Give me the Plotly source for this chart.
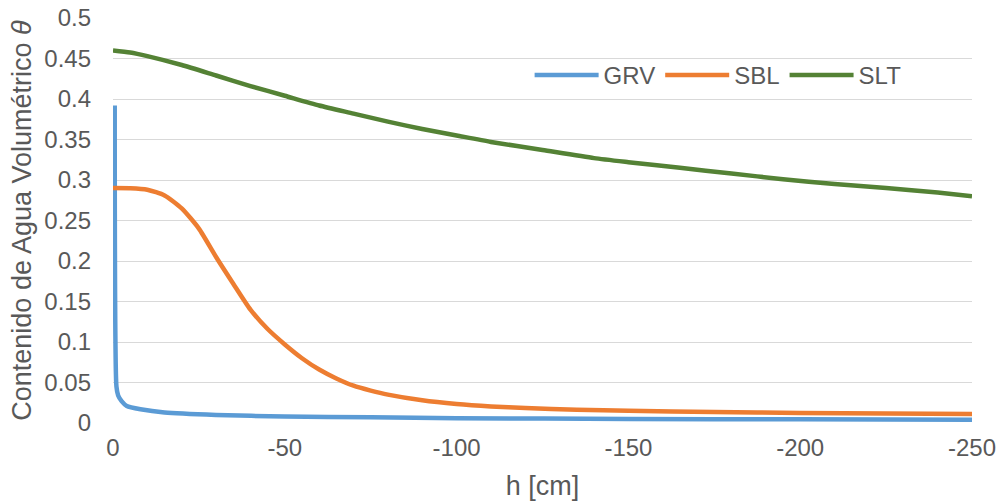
import plotly.graph_objects as go

# Suction head h [cm] and volumetric water content for each soil
h_grv = [-0.5, -1, -1.5, -2.5, -4, -8, -15, -30, -50, -75, -100, -150, -200, -250]
theta_grv = [0.392, 0.045, 0.034, 0.027, 0.021, 0.017, 0.013, 0.010, 0.008, 0.007,
             0.006, 0.005, 0.0045, 0.004]

h_sbl = [0, -5, -10, -15, -20, -25, -30, -35, -40, -45, -50, -55, -60, -65, -70,
         -75, -80, -90, -100, -110, -120, -135, -150, -175, -200, -225, -250]
theta_sbl = [0.290, 0.2898, 0.288, 0.281, 0.265, 0.240, 0.205, 0.172, 0.140, 0.116,
             0.097, 0.080, 0.066, 0.055, 0.046, 0.040, 0.035, 0.028, 0.0235, 0.0205,
             0.0185, 0.0165, 0.015, 0.0135, 0.0125, 0.0117, 0.011]

h_slt = [0, -5, -10, -20, -30, -40, -50, -60, -70, -80, -90, -100, -110, -125, -140,
         -150, -165, -180, -195, -210, -225, -240, -250]
theta_slt = [0.460, 0.4575, 0.453, 0.442, 0.429, 0.416, 0.404, 0.392, 0.382, 0.372,
             0.363, 0.355, 0.347, 0.337, 0.327, 0.322, 0.315, 0.308, 0.301, 0.295,
             0.290, 0.2845, 0.280]

x_ticks = [0, -50, -100, -150, -200, -250]
x_tick_labels = ["0", "-50", "-100", "-150", "-200", "-250"]

series = [
    ("GRV", h_grv, theta_grv, "#5B9BD5"),
    ("SBL", h_sbl, theta_sbl, "#ED7D31"),
    ("SLT", h_slt, theta_slt, "#548235"),
]

fig = go.Figure()
for name, xs, ys, color in series:
    fig.add_trace(go.Scatter(
        x=xs, y=ys, name=name, mode="lines",
        line=dict(color=color, width=4.5, shape="spline", smoothing=0.6),
    ))

text_color = "#595959"
fig.update_layout(
    width=1000, height=504,
    margin=dict(l=113, r=28, t=18, b=81),
    paper_bgcolor="white", plot_bgcolor="white",
    font=dict(family="Liberation Sans, Arial, sans-serif", size=24, color=text_color),
    showlegend=True,
    legend=dict(
        orientation="h", x=0.485, y=0.858, xanchor="left", yanchor="middle",
        bgcolor="rgba(0,0,0,0)", font=dict(size=24, color=text_color),
        itemwidth=64,
    ),
    xaxis=dict(
        range=[0, -250], tickvals=x_ticks, ticktext=x_tick_labels,
        showgrid=False, zeroline=False, showline=False, ticks="", automargin=False,
        ticklabelstandoff=8, tickfont=dict(size=24),
        title=dict(text="h [cm]", font=dict(size=27), standoff=16),
    ),
    yaxis=dict(
        range=[0, 0.5], dtick=0.05, showgrid=True, gridcolor="#D9D9D9", gridwidth=1,
        zeroline=False, showline=False, ticks="", automargin=False,
        ticklabelstandoff=21, tickfont=dict(size=24),
        title=dict(text="Contenido de Agua Volumétrico <i>θ</i>", font=dict(size=27),
                   standoff=4),
    ),
)

fig.write_html("out.html")
